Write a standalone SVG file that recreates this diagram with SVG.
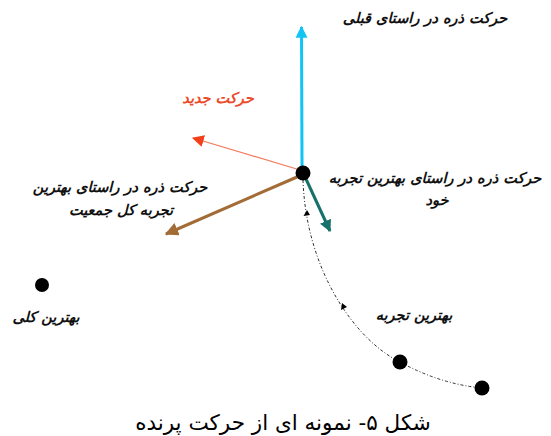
<svg xmlns="http://www.w3.org/2000/svg" width="551" height="436" viewBox="0 0 551 436">
<style>
.lbl{font-family:"DejaVu Sans","Noto Sans",sans-serif;font-size:14.5px;font-weight:bold;font-style:italic;fill:#111;text-anchor:middle;direction:rtl}
.cap{font-family:"DejaVu Sans","Noto Sans",sans-serif;font-size:21.5px;fill:#000;text-anchor:middle;direction:rtl}
.dot{fill:#000}
</style>
<defs>
<marker id="mCyan" viewBox="0 0 10 10" refX="9" refY="5" markerWidth="4" markerHeight="4" orient="auto" markerUnits="strokeWidth"><path d="M0,0 L10,5 L0,10 Z" fill="#12c4f4"/></marker>
<marker id="mRed" viewBox="0 0 10 10" refX="9" refY="5" markerWidth="10" markerHeight="10" orient="auto" markerUnits="strokeWidth"><path d="M0,0 L10,5 L0,10 Z" fill="#f2401a"/></marker>
<marker id="mBrown" viewBox="0 0 10 10" refX="9" refY="5" markerWidth="4.5" markerHeight="4.5" orient="auto" markerUnits="strokeWidth"><path d="M0,0 L10,5 L0,10 Z" fill="#a36b35"/></marker>
<marker id="mTeal" viewBox="0 0 10 10" refX="9" refY="5" markerWidth="4" markerHeight="4" orient="auto" markerUnits="strokeWidth"><path d="M0,0 L10,5 L0,10 Z" fill="#17716b"/></marker>
</defs>
<g id="connectors">
<line x1="302" y1="166" x2="301.5" y2="27" stroke="#12c4f4" stroke-width="3" marker-end="url(#mCyan)"/>
<line x1="300" y1="170" x2="193" y2="138" stroke="#f47a5c" stroke-width="1.2" marker-end="url(#mRed)"/>
<line x1="297" y1="177" x2="166" y2="234" stroke="#a36b35" stroke-width="3" marker-end="url(#mBrown)"/>
<line x1="306" y1="179" x2="330" y2="231" stroke="#17716b" stroke-width="3" marker-end="url(#mTeal)"/>
<path d="M303,180 C306,270 355,340 400,362 Q440,384 482,388" fill="none" stroke="#333" stroke-width="1" stroke-dasharray="3,2,1,2"/>
<path d="M307,210 L303.5,216 L310,215 Z" fill="#000"/>
<path d="M342,303 L341,310 L347,307 Z" fill="#000"/>
</g>
<g id="particle"><circle class="dot" cx="303" cy="173" r="7.5"/></g>
<g id="best-global"><circle class="dot" cx="42" cy="285" r="7"/><text class="lbl" x="46" y="322">بهترین کلی</text></g>
<g id="best-p1"><circle class="dot" cx="400" cy="362" r="7.5"/></g>
<g id="best-p2"><circle class="dot" cx="482" cy="388" r="7.5"/></g>
<g id="label-prev"><text class="lbl" x="425" y="23">حرکت ذره در راستای قبلی</text></g>
<g id="label-new"><text class="lbl" x="218" y="103" style="fill:#ec4a2a">حرکت جدید</text></g>
<g id="label-global"><text class="lbl" x="120" y="192">حرکت ذره در راستای بهترین</text><text class="lbl" x="121" y="215">تجربه کل جمعیت</text></g>
<g id="label-own"><text class="lbl" x="435" y="183">حرکت ذره در راستای بهترین تجربه</text><text class="lbl" x="437" y="205">خود</text></g>
<g id="label-best"><text class="lbl" x="414" y="320">بهترین تجربه</text></g>
<g id="caption"><text class="cap" x="283" y="430">شکل ۵- نمونه ای از حرکت پرنده</text></g>
</svg>
